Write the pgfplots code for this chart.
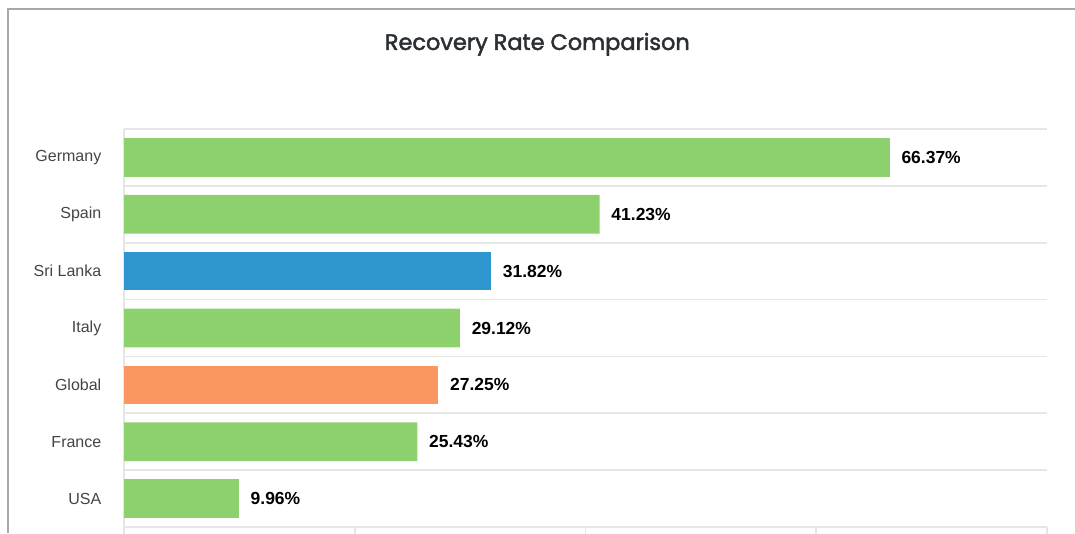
\documentclass[border=0pt]{standalone}
\usepackage{fontspec}
\setmainfont{Liberation Sans}
\newfontfamily\poppins{Poppins}
\usepackage{pgfplots}
\pgfplotsset{compat=1.18}
\definecolor{bargreen}{HTML}{8DD16E}
\definecolor{barblue}{HTML}{2E96CE}
\definecolor{barorange}{HTML}{FA9660}
\definecolor{gridgrey}{HTML}{E6E6E6}
\definecolor{framegrey}{HTML}{A8A8A8}
\definecolor{labelgrey}{HTML}{444444}
\definecolor{titlegrey}{HTML}{2B2F33}
% slightly heavier title: fill and stroke the glyphs
\newcommand{\heavier}[1]{\special{pdf:code q 2 Tr 0.35 w}#1\special{pdf:code Q}}
\begin{document}
\begin{tikzpicture}
\useasboundingbox (0,0) rectangle (806.25pt,399.75pt);
% outer frame (left and top edges only are visible)
\draw[framegrey, line width=1.1pt] (6pt,0) -- (6pt,393pt) -- (806.25pt,393pt);
\node[font=\poppins\fontsize{16.8}{18}\selectfont, text=titlegrey] at (403pt,366.5pt) {\heavier{Recovery Rate Comparison}};
\begin{axis}[
    at={(93pt,4.5pt)}, anchor=south west,
    scale only axis, width=692.25pt, height=298.5pt,
    xbar, bar width=0.68,
    xmin=0, xmax=80, ymin=-0.5, ymax=6.5,
    xtick={0,20,40,60,80}, xticklabels={},
    ytick={0,1,2,3,4,5,6},
    yticklabels={USA,France,Global,Italy,Sri Lanka,Spain,Germany},
    minor ytick={-0.5,0.5,...,6.5},
    ymajorgrids=false, yminorgrids=true,
    minor grid style={gridgrey, line width=1.3pt},
    axis x line*=bottom, axis y line*=left,
    axis line style={gridgrey, line width=1.3pt, -},
    x tick style={gridgrey, line width=1.3pt},
    major x tick style={gridgrey, line width=1.3pt},
    tick align=outside, major tick length=8pt,
    y tick style={draw=none}, minor tick length=0pt,
    yticklabel style={font=\fontsize{12}{14}\selectfont, text=labelgrey, xshift=-5.5pt},
    point meta=x,
    /pgf/number format/assume math mode=true,
    nodes near coords={\pgfmathprintnumber[fixed,precision=2,fixed zerofill,assume math mode=true]{\pgfplotspointmeta}\%},
    nodes near coords style={font=\bfseries\fontsize{13.1}{15}\selectfont, text=black, anchor=west, xshift=5.3pt},
]
\addplot[fill=bargreen, draw=none, bar shift=0pt] coordinates {
    (66.37,6) (41.23,5) (29.12,3) (25.43,1) (9.96,0)
};
\addplot[fill=barblue, draw=none, bar shift=0pt] coordinates {(31.82,4)};
\addplot[fill=barorange, draw=none, bar shift=0pt] coordinates {(27.25,2)};
\end{axis}
\end{tikzpicture}
\end{document}
